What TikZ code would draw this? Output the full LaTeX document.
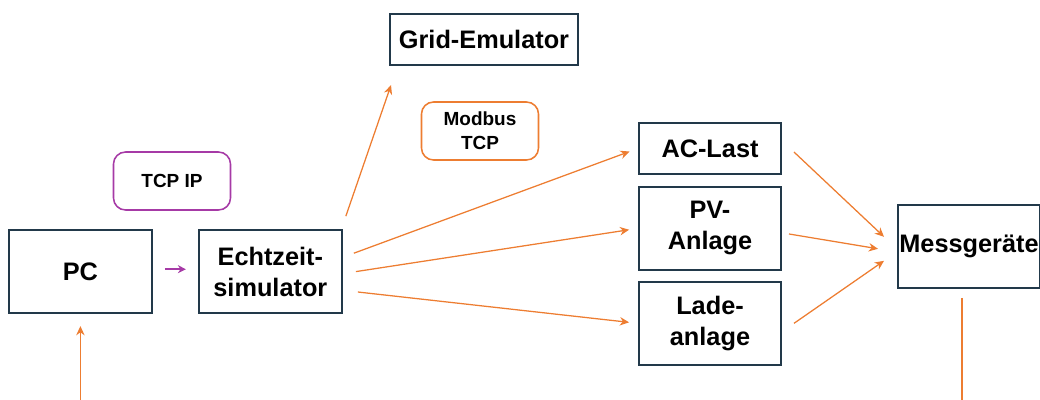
\documentclass[tikz,border=0pt]{standalone}
\usepackage{fontspec}
\setmainfont{Liberation Sans}
\usetikzlibrary{calc}
\usetikzlibrary{positioning}
\usetikzlibrary{arrows.meta}

\definecolor{boxline}{HTML}{22394A}
\definecolor{flowor}{HTML}{ED7D31}
\definecolor{linkpu}{HTML}{A63AA6}

\begin{document}
\begin{tikzpicture}[
    block/.style={draw=boxline, line width=1.4pt, fill=white, rectangle, inner sep=0pt, align=center, minimum width=3.575cm, minimum height=2.075cm, font=\fontsize{18}{22}\selectfont\bfseries},
    flatblock/.style={block, minimum height=1.275cm},
    proto/.style={draw, line width=1.1pt, rounded corners=0.3cm, inner sep=0pt, align=center, minimum width=2.925cm, minimum height=1.45cm, font=\fontsize{13.5}{17}\selectfont\bfseries},
    flow/.style={draw=flowor, line width=0.9pt, -{Stealth[length=2.3mm, width=2.1mm]}},
    ]
    \useasboundingbox (0,0) rectangle (26,-9.975);

    % PC
    \node[block] (pc) at (2.01,-6.79) {PC};
    % Echtzeitsimulator
    \node[block, right=1.125cm of pc] (echt) {Echtzeit-\\simulator};
    \draw[draw=linkpu, line width=1.1pt, -{Stealth[length=2mm, width=2mm]}] ([xshift=0.3cm, yshift=0.06cm]pc.east) -- ([xshift=-0.3cm, yshift=0.06cm]echt.west);
    % TCP IP
    \node[proto, draw=linkpu] (tcp) at (4.3,-4.525) {TCP IP};
    % Grid-Emulator
    \node[flatblock, minimum width=4.7cm] (grid) at (12.1,-0.99) {Grid-Emulator};
    \draw[flow] ([xshift=0.075cm, yshift=0.325cm]echt.north east) -- ([xshift=0.05cm, yshift=-0.475cm]grid.south west);
    % Modbus TCP
    \node[proto, draw=flowor] (modbus) at (12.0,-3.275) {Modbus\\TCP};
    % Lasten
    \node[flatblock, minimum width=3.55cm] (aclast) at (17.75,-3.71) {AC-Last};
    \node[block, minimum width=3.55cm, below=0.275cm of aclast] (pv) {PV-\\Anlage};
    \node[block, minimum width=3.55cm, below=0.25cm of pv] (lade) {Lade-\\anlage};
    \draw[flow, shorten >=0.225cm] ([xshift=0.275cm, yshift=0.46cm]echt.east) -- (aclast.west);
    \draw[flow, shorten >=0.225cm] ([xshift=0.325cm]echt.east) -- (pv.west);
    \draw[flow, shorten >=0.225cm] ([xshift=0.375cm, yshift=-0.51cm]echt.east) -- (lade.west);
    % Messgeraete
    \node[block, minimum width=3.55cm] (mess) at (24.225,-6.16) {Messgeräte};
    \draw[flow] ([xshift=0.3cm, yshift=-0.09cm]aclast.east) -- ([xshift=-0.325cm, yshift=0.24cm]mess.west);
    \draw[flow] ([xshift=0.175cm, yshift=-0.14cm]pv.east) -- ([xshift=-0.475cm, yshift=-0.06cm]mess.west);
    \draw[flow] ([xshift=0.3cm]lade.east) -- ([xshift=-0.325cm, yshift=-0.36cm]mess.west);
    % Anschluesse unten
    \coordinate (pcin) at ($(pc.south)+(0,-3.2)$);
    \coordinate (messout) at ($(mess.south)+(-0.175,-3.2)$);
    \draw[flow] (pcin) -- ([yshift=-0.3cm]pc.south);
    \draw[draw=flowor, line width=0.9pt] ([xshift=-0.175cm, yshift=-0.225cm]mess.south) -- (messout);

\end{tikzpicture}
\end{document}
